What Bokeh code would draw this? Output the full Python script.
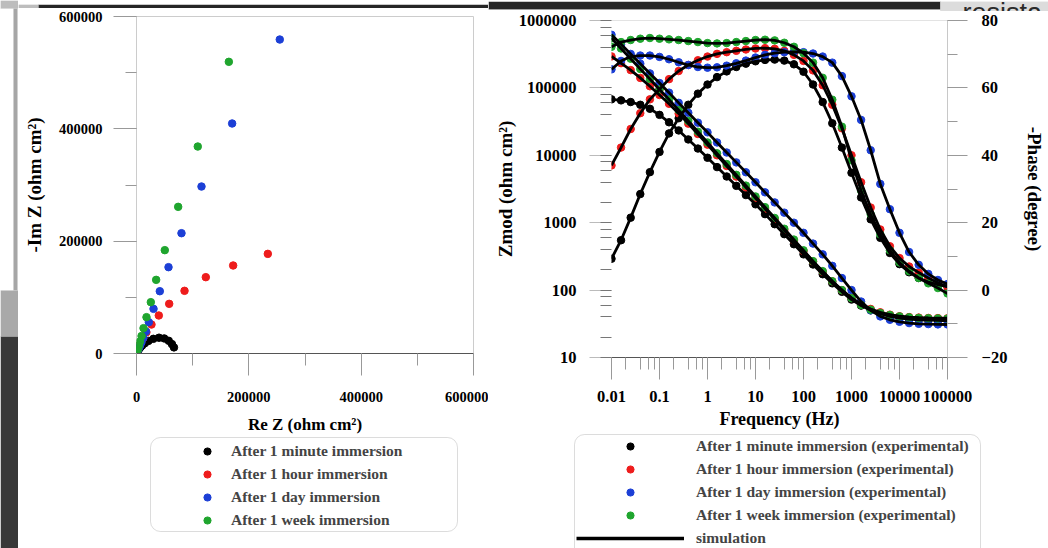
from bokeh.plotting import figure
from bokeh.models import (Range1d, LinearAxis, LinearScale, SingleIntervalTicker, NumeralTickFormatter,
                          LogTicker, Legend, LegendItem, BoxAnnotation, Label, Span)
from bokeh.layouts import row, column
from bokeh.embed import file_html
from bokeh.resources import INLINE

SERIF = "Liberation Serif"

# ---------------- data ----------------
series_labels = ["After 1 minute immersion", "After 1 hour immersion",
                 "After 1 day immersion", "After 1 week immersion"]
bode_labels = ["After 1 minute immersion (experimental)", "After 1 hour immersion (experimental)",
               "After 1 day immersion (experimental)", "After 1 week immersion (experimental)"]
sim_label = "simulation"
series_colors = ["#000000", "#ee1c1c", "#1c3fd6", "#1fa52e"]

# Nyquist (ohm cm2)
nyq_black_re = [66700, 63100, 57400, 49400, 40100, 30000, 21300, 14700, 9900, 6600, 4500, 3000, 2100, 1400, 1000, 700]
nyq_black_im = [10900, 16700, 22600, 26800, 28100, 26100, 22400, 18200, 14100, 10700, 8000, 6000, 4400, 3200, 2400, 1740]
nyq_red_re = [233800, 172100, 123400, 85500, 58200, 39700, 26700, 17600, 11600, 7700, 5100, 3400, 2300, 1570, 1070, 730]
nyq_red_im = [177400, 156700, 135900, 111600, 88400, 67700, 51600, 37700, 27100, 19200, 13500, 9400, 6600, 4570, 3180, 2200]
nyq_blue_re = [255100, 170300, 115700, 80100, 57000, 41500, 30300, 21900, 16800, 12300, 8900, 6300, 4400, 3000, 2100, 1400]
nyq_blue_im = [559000, 409500, 297300, 214200, 153700, 110900, 79500, 55800, 39200, 27900, 20000, 14200, 10100, 7200, 5200, 3700]
nyq_green_re = [164400, 109100, 74200, 50400, 35000, 25500, 17800, 12500, 9000, 6300, 4450, 3100, 2100, 1430, 980, 670]
nyq_green_im = [519300, 368500, 261100, 184000, 131100, 91400, 64700, 45100, 31100, 21500, 14800, 10200, 7100, 4930, 3410, 2360]

# Bode
freq = [0.01, 0.0158, 0.0251, 0.0398, 0.0631, 0.1, 0.158, 0.251, 0.398, 0.631,
        1, 1.58, 2.51, 3.98, 6.31, 10, 15.8, 25.1, 39.8, 63.1,
        100, 158, 251, 398, 631, 1000, 1585, 2512, 3981, 6310,
        10000, 15849, 25119, 39811, 63096, 100000]

zmod_black = [67600, 65300, 61700, 56200, 49000, 39800, 30900, 23400, 17200, 12600,
              9200, 6680, 4850, 3520, 2570, 1875, 1340, 950, 676, 479,
              339, 240, 172, 126, 94.4, 72.4, 58.9, 50.1, 44.7, 40.7,
              38.5, 37.2, 36.3, 35.9, 35.5, 35.1]
zmod_red = [293500, 232800, 183600, 140600, 105800, 78500, 58100, 41600, 29500, 20700,
            14400, 10000, 6950, 4830, 3350, 2320, 1610, 1120, 780, 543,
            380, 266, 188, 135, 100, 76.7, 61.7, 52.5, 46.8, 43.2,
            40.9, 39.8, 39.1, 38.6, 38.4, 38.2]
zmod_blue = [614000, 443000, 319000, 229000, 164000, 118000, 85000, 60000, 42700, 30500,
             21900, 15500, 11000, 7850, 5600, 3980, 2820, 2000, 1410, 1000,
             708, 490, 339, 229, 151, 100, 67.6, 50.1, 40.7, 36.3,
             33.9, 32.4, 31.6, 31.3, 31.0, 30.9]
zmod_green = [544700, 384300, 271400, 190800, 135700, 94900, 67100, 46800, 32400, 22400,
              15500, 10700, 7410, 5130, 3550, 2450, 1700, 1175, 813, 562,
              389, 269, 191, 135, 100, 75.9, 60.3, 51.3, 45.7, 42.7,
              40.7, 39.4, 38.6, 38.2, 38.0, 37.8]

phase_black = [9.3, 14.8, 21.5, 28.5, 35.0, 41.0, 46.5, 51.0, 55.0, 58.3,
               61.0, 63.2, 64.9, 66.2, 67.2, 67.9, 68.3, 68.4, 68.1, 67.0,
               64.8, 61.0, 55.8, 49.5, 42.3, 34.8, 27.5, 21.0, 15.5, 11.0,
               7.7, 5.3, 3.6, 2.4, 1.6, 1.0]
phase_red = [37.0, 42.3, 47.8, 52.5, 56.6, 59.6, 62.6, 65.0, 66.8, 68.2,
             69.3, 70.1, 70.6, 71.0, 71.4, 71.7, 71.8, 71.6, 71.0, 69.8,
             68.0, 65.2, 60.8, 55.0, 48.0, 40.0, 32.0, 24.5, 18.0, 13.0,
             9.5, 7.0, 5.2, 3.6, 2.2, 1.0]
phase_blue = [65.5, 68.0, 69.3, 69.6, 69.6, 69.2, 68.5, 67.6, 66.8, 66.2,
              66.0, 66.1, 66.6, 67.3, 68.1, 69.0, 69.8, 70.3, 70.6, 70.7,
              70.6, 70.2, 69.3, 67.5, 63.5, 57.5, 50.5, 41.5, 31.5, 24.0,
              17.0, 11.3, 7.5, 4.8, 3.0, 1.8]
phase_green = [72.2, 73.6, 74.2, 74.6, 74.8, 74.6, 74.4, 74.2, 73.9, 73.6,
               73.3, 73.2, 73.3, 73.6, 73.9, 74.2, 74.3, 74.1, 73.4, 72.2,
               70.3, 67.5, 63.0, 56.5, 48.5, 38.5, 29.5, 22.5, 16.5, 11.8,
               8.2, 5.6, 3.6, 2.0, 0.6, -1.0]

nyq_re = [nyq_black_re, nyq_red_re, nyq_blue_re, nyq_green_re]
nyq_im = [nyq_black_im, nyq_red_im, nyq_blue_im, nyq_green_im]
zmods = [zmod_black, zmod_red, zmod_blue, zmod_green]
phases = [phase_black, phase_red, phase_blue, phase_green]

DOT = 7.5
SIM_W = 2.8


def style_axis(ax, tick_font, title_font):
    ax.major_label_text_font = SERIF
    ax.major_label_text_font_style = "bold"
    ax.major_label_text_font_size = tick_font
    ax.major_label_text_color = "black"
    ax.axis_label_text_font = SERIF
    ax.axis_label_text_font_style = "bold"
    ax.axis_label_text_font_size = title_font
    ax.axis_label_text_color = "black"
    ax.major_tick_in = 0
    ax.minor_tick_in = 0


def blank(width, height, xr, yr):
    f = figure(width=width, height=height, output_backend="svg", toolbar_location=None,
               x_range=Range1d(*xr), y_range=Range1d(*yr),
               min_border=0, x_axis_location=None, y_axis_location=None)
    f.grid.visible = False
    f.outline_line_color = None
    return f


def dbox(p, l, r, b, t, color, alpha=1.0, **kw):
    p.add_layout(BoxAnnotation(left=l, right=r, bottom=b, top=t, fill_color=color,
                               fill_alpha=alpha, **kw))


# ---------------- Nyquist (page x 18..488, y 8..436) ----------------
p1 = figure(width=470, height=428, output_backend="svg", toolbar_location=None,
            x_range=Range1d(0, 600000), y_range=Range1d(0, 600000),
            min_border_left=118, min_border_right=15, min_border_top=8, min_border_bottom=83)
p1.grid.visible = False
p1.outline_line_color = "#cccccc"

xa = p1.xaxis[0]
style_axis(xa, "14.5px", "17px")
xa.ticker = SingleIntervalTicker(interval=200000, num_minor_ticks=2)
xa.formatter = NumeralTickFormatter(format="0")
xa.axis_label = "Re Z (ohm cm²)"
xa.axis_line_color = "#555555"
xa.major_tick_out = 22
xa.minor_tick_out = 12
xa.major_tick_line_color = "#999999"
xa.minor_tick_line_color = "#999999"
xa.major_label_standoff = 16
xa.axis_label_standoff = 10

ya = p1.yaxis[0]
style_axis(ya, "14.5px", "19px")
ya.ticker = SingleIntervalTicker(interval=200000, num_minor_ticks=2)
ya.formatter = NumeralTickFormatter(format="0")
ya.axis_label = "-Im Z (ohm cm²)"
ya.axis_line_color = None
ya.major_tick_out = 23
ya.minor_tick_out = 11
ya.major_tick_line_color = "#999999"
ya.minor_tick_line_color = "#999999"
ya.major_label_standoff = 11
ya.axis_label_standoff = 11

for re_, im_, c in zip(nyq_re, nyq_im, series_colors):
    p1.scatter(re_, im_, size=DOT, color=c)

# ---------------- Bode (page x 488..1048, y 11..432) ----------------
p2 = figure(width=560, height=421, output_backend="svg", toolbar_location=None,
            x_axis_type="log", y_axis_type="log",
            x_range=Range1d(0.01, 100000), y_range=Range1d(10, 1000000),
            min_border_left=123, min_border_right=100, min_border_top=9, min_border_bottom=75)
p2.grid.visible = False
p2.outline_line_color = None
p2.extra_y_ranges = {"phase": Range1d(-20, 80)}
p2.extra_y_scales = {"phase": LinearScale()}

bx = p2.xaxis[0]
style_axis(bx, "16.5px", "18px")
bx.ticker = LogTicker(desired_num_ticks=12)
bx.formatter = NumeralTickFormatter(format="0.[00]")
bx.axis_label = "Frequency (Hz)"
bx.axis_line_color = "#555555"
bx.major_tick_out = 22
bx.minor_tick_out = 12
bx.major_tick_line_color = "#999999"
bx.minor_tick_line_color = "#999999"
bx.major_label_standoff = 11
bx.axis_label_standoff = 4

by = p2.yaxis[0]
style_axis(by, "16.5px", "19px")
by.ticker = LogTicker(desired_num_ticks=12)
by.formatter = NumeralTickFormatter(format="0")
by.axis_label = "Zmod (ohm cm²)"
by.axis_line_color = None
by.major_tick_out = 22
by.minor_tick_out = 11
by.major_tick_line_color = "#bbbbbb"
by.minor_tick_line_color = "#777777"
by.major_label_standoff = 13
by.axis_label_standoff = 0

ry = LinearAxis(y_range_name="phase", ticker=SingleIntervalTicker(interval=20, num_minor_ticks=2))
style_axis(ry, "16.5px", "19px")
ry.axis_label = "-Phase (degree)"
ry.axis_line_color = "#c8c8c8"
ry.major_tick_out = 20
ry.minor_tick_out = 10
ry.major_tick_line_color = "#999999"
ry.minor_tick_line_color = "#999999"
ry.major_label_standoff = 14
ry.axis_label_standoff = 14
p2.add_layout(ry, "right")

p2.add_layout(Span(location=1000000, dimension="width", line_color="#c8c8c8", line_width=1))

for zm, ph, c in zip(zmods, phases, series_colors):
    p2.scatter(freq, zm, size=DOT, color=c)
    p2.scatter(freq, ph, size=DOT, color=c, y_range_name="phase")
for zm, ph in zip(zmods, phases):
    p2.line(freq, zm, line_width=SIM_W, color="black")
    p2.line(freq, ph, line_width=SIM_W, color="black", y_range_name="phase")

# ---------------- legends ----------------
# (legend key renderers reuse the series arrays; their values fall far outside these
#  small legend panels, so only the legend swatches are visible)
LEG_STYLE = dict(orientation="vertical", glyph_height=18, label_height=18, spacing=5,
                 padding=0, margin=0, border_line_color=None, background_fill_alpha=0,
                 label_text_font=SERIF, label_text_font_style="bold", label_text_font_size="15.5px")

# left legend panel: page x 18..488, y 436..548
lg1 = blank(470, 112, (0, 470), (0, 112))
dbox(lg1, 132, 439, 17, 111, "white", line_color="#8c8c8c", line_width=1, border_radius=10)
keys1 = [lg1.scatter(re_, im_, size=DOT, color=c) for re_, im_, c in zip(nyq_re, nyq_im, series_colors)]
leg1 = Legend(items=[LegendItem(label=lab, renderers=[r]) for lab, r in zip(series_labels, keys1)],
              location=(179, 19), glyph_width=20, label_standoff=14, **LEG_STYLE)
lg1.add_layout(leg1)

# right legend panel: page x 488..1048, y 432..548
lg2 = blank(560, 116, (0, 560), (0, 116))
dbox(lg2, 86, 492, -20, 114, "white", line_color="#8c8c8c", line_width=1, border_radius=10)
keys2 = [lg2.scatter(re_, im_, size=DOT, color=c) for re_, im_, c in zip(nyq_re, nyq_im, series_colors)]
key_sim = lg2.line(nyq_black_re, nyq_black_im, line_width=3.5, color="black")
items2 = [LegendItem(label=lab, renderers=[r]) for lab, r in zip(bode_labels, keys2)]
items2.append(LegendItem(label=sim_label, renderers=[key_sim]))
leg2 = Legend(items=items2, location=(88, 1), glyph_width=108, label_standoff=12, **LEG_STYLE)
lg2.add_layout(leg2)

# ---------------- surrounding page strips ----------------
# left strip: page x 0..18, y 0..548 (y measured upward from page bottom)
ls = blank(18, 548, (0, 18), (0, 548))
dbox(ls, 0, 18, 540, 548, "#bdbdbd")
dbox(ls, 13, 17, 258, 540, "#a6a6a6")
dbox(ls, 0, 18, 212, 258, "#a9a9a9")
dbox(ls, 0, 18, 0, 212, "#383838")

# top strip above Nyquist: page x 18..488, y 0..8
ts1 = blank(470, 8, (0, 470), (0, 8))
dbox(ts1, 0, 20, 0, 8, "#bdbdbd")
dbox(ts1, 20, 470, 0, 8, "#262626")

# top strip above Bode: page x 488..1048, y 0..11
ts2 = blank(560, 11, (0, 560), (0, 11))
dbox(ts2, 0, 452, 3, 11, "#262626")
dbox(ts2, 452, 560, 0, 11, "#dcdcdc")
ts2.add_layout(Label(x=474, y=0, text="resista", text_font="Liberation Sans",
                     text_font_size="27px", text_color="#2b2b2b", text_baseline="alphabetic"))

col1 = column(row(ts1), row(p1), row(lg1))
col2 = column(row(ts2), row(p2), row(lg2))
layout = row(ls, col1, col2)
open("out.html", "w").write(file_html(layout, INLINE))
